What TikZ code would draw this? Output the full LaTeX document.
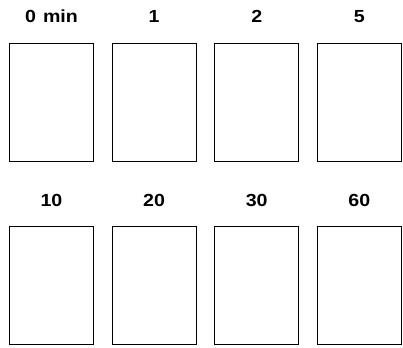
\documentclass[tikz,border=0pt]{standalone}
\usepackage{fontspec}
\newfontfamily\stampfont[FakeStretch=1.12, BoldFeatures={FakeStretch=1.12}]{Liberation Sans}
\usetikzlibrary{positioning}

\begin{document}
\begin{tikzpicture}[
    x=1pt, y=1pt,
    frame/.style={draw, line width=0.8pt, minimum width=84pt, minimum height=118pt, inner sep=0pt},
    stamp/.style={font=\stampfont\bfseries\fontsize{17.5}{20}\selectfont, inner sep=0pt, text height=12.5pt, text depth=0pt}
]
    \useasboundingbox (0,0) rectangle (403,347);
    % first row of frames
    \node[frame] (f0) at (51.5,245) {};
    \node[frame, right=17.8pt of f0] (f1) {};
    \node[frame, right=17.8pt of f1] (f2) {};
    \node[frame, right=17.8pt of f2] (f3) {};
    % second row of frames
    \node[frame, below=65pt of f0] (f10) {};
    \node[frame, right=17.8pt of f10] (f20) {};
    \node[frame, right=17.8pt of f20] (f30) {};
    \node[frame, right=17.8pt of f30] (f60) {};
    % time labels
    \node[stamp, above=19.5pt of f0] (t0) {0\hspace{0.4em}min};
    \node[stamp, above=19.5pt of f1] (t1) {1};
    \node[stamp, above=19.5pt of f2] (t2) {2};
    \node[stamp, above=19.5pt of f3] (t5) {5};
    \node[stamp, above=19.5pt of f10] (t10) {10};
    \node[stamp, above=19.5pt of f20] (t20) {20};
    \node[stamp, above=19.5pt of f30] (t30) {30};
    \node[stamp, above=19.5pt of f60] (t60) {60};
\end{tikzpicture}
\end{document}
